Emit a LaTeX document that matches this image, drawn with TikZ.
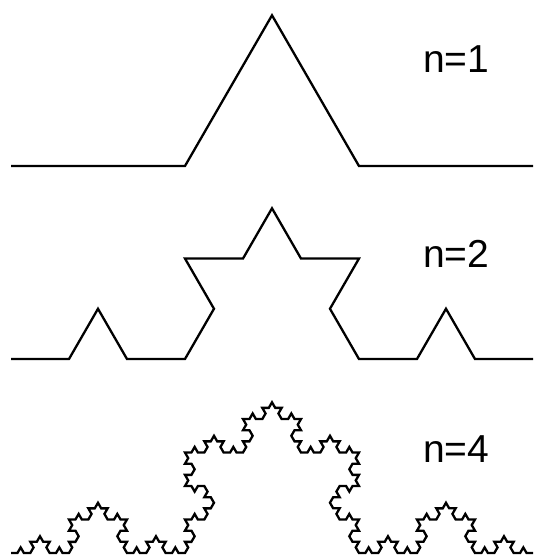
\documentclass[tikz,border=0pt]{standalone}
\usepackage{fontspec}
\setmainfont{Liberation Sans}
\usetikzlibrary{decorations.fractals}

\tikzset{
  kochline/.style={line width=2.3pt,color=black,line join=miter,decoration=Koch snowflake},
  steplbl/.style={anchor=base west,inner sep=0pt,font=\fontsize{39}{39}\selectfont}
}

\begin{document}
\begin{tikzpicture}[x=1pt,y=-1pt]
\useasboundingbox (0,0) rectangle (534,556);

\coordinate (L1) at (11,166);
\coordinate (R1) at (533,166);
\coordinate (L2) at (11,359);
\coordinate (R2) at (533,359);
\coordinate (L4) at (11,553);
\coordinate (R4) at (533,553);

% n=1
\draw[kochline] decorate{(L1) -- (R1)};
% n=2
\draw[kochline] decorate{decorate{(L2) -- (R2)}};
% n=4
\draw[kochline] decorate{decorate{decorate{decorate{(L4) -- (R4)}}}};

\node[steplbl] (n1) at (423,73) {n=1};
\node[steplbl] (n2) at (423,267) {n=2};
\node[steplbl] (n4) at (423,462) {n=4};

\end{tikzpicture}
\end{document}
